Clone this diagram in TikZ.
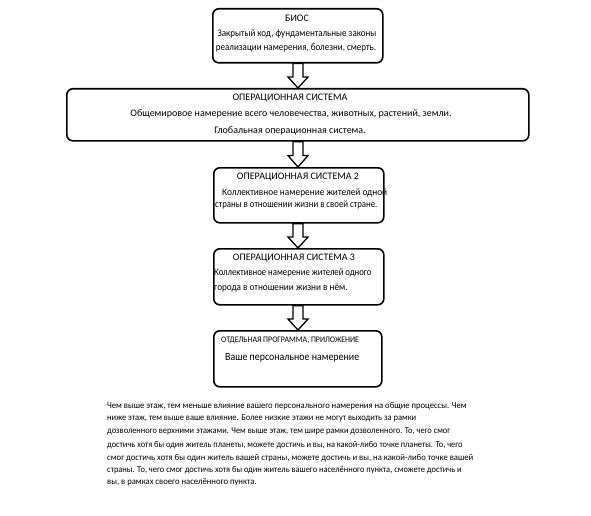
\documentclass[tikz,border=0pt]{standalone}
\usepackage{graphicx}
\usepackage{fontspec}
\setmainfont{Carlito}
\usetikzlibrary{calc}
\newcommand{\sqz}[2]{\scalebox{#1}[1]{#2}}
\begin{document}
\begin{tikzpicture}[x=1pt,y=-1pt,
  box/.style={draw, line width=1.6pt, rounded corners=6pt, anchor=north west, inner sep=0pt},
  txt/.style={inner sep=0pt, font=\fontsize{10}{12}\selectfont},
  ltxt/.style={txt, anchor=west},
  ptxt/.style={inner sep=0pt, anchor=west, font=\fontsize{9}{11}\selectfont},
  barrow/.style={draw, line width=1.3pt, fill=white, line join=miter}]
\useasboundingbox (0,0) rectangle (591,516);
% boxes
\node[box, minimum width=170pt, minimum height=54pt] (bios) at (212,8) {};
\node[box, minimum width=462pt, minimum height=52pt] (os) at (66,88) {};
\node[box, minimum width=170pt, minimum height=55pt] (os2) at (213,167) {};
\node[box, minimum width=170pt, minimum height=56pt] (os3) at (213,248) {};
\node[box, minimum width=168pt, minimum height=56pt] (os4) at (213,330) {};
% texts
\node[txt] (t1a) at (297,18) {БИОС};
\node[txt] (t1b) at (297,34) {\sqz{0.9}{Закрытый код, фундаментальные законы}};
\node[txt] (t1c) at (296,48) {\sqz{0.9}{реализации намерения, болезни, смерть.}};
\node[txt] (t2a) at (290,98) {ОПЕРАЦИОННАЯ СИСТЕМА};
\node[txt] (t2b) at (291,114) {Общемировое намерение всего человечества, животных, растений, земли.};
\node[txt] (t2c) at (290,131) {Глобальная операционная система.};
\node[txt] (t3a) at (298,177) {ОПЕРАЦИОННАЯ СИСТЕМА 2};
\node[ltxt] (t3b) at (222,193) {\sqz{0.93}{Коллективное намерение жителей одной}};
\node[ltxt] (t3c) at (215,205) {\sqz{0.88}{страны в отношении жизни в своей стране.}};
\node[txt] (t4a) at (294,258) {ОПЕРАЦИОННАЯ СИСТЕМА 3};
\node[ltxt] (t4b) at (214,273) {\sqz{0.87}{Коллективное намерение жителей одного}};
\node[ltxt] (t4c) at (214,288) {\sqz{0.92}{города в отношении жизни в нём.}};
\node[ltxt, font=\fontsize{8.5}{10}\selectfont] (t5a) at (221,340) {\sqz{0.93}{ОТДЕЛЬНАЯ ПРОГРАММА, ПРИЛОЖЕНИЕ}};
\node[ltxt, font=\fontsize{11}{13}\selectfont] (t5b) at (225,358) {\sqz{0.9}{Ваше персональное намерение}};
% paragraph
\node[ptxt] (p1) at (107,405.7) {\sqz{0.955}{Чем выше этаж, тем меньше влияние вашего персонального намерения на общие процессы. Чем}};
\node[ptxt] (p2) at (107,418.3) {\sqz{0.94}{ниже этаж, тем выше ваше влияние. Более низкие этажи не могут выходить за рамки}};
\node[ptxt] (p3) at (107,431.3) {\sqz{0.93}{дозволенного верхними этажами. Чем выше этаж, тем шире рамки дозволенного. То, чего смог}};
\node[ptxt] (p4) at (107,445) {\sqz{0.93}{достичь хотя бы один житель планеты, можете достичь и вы, на какой-либо точке планеты. То, чего}};
\node[ptxt] (p5) at (107,458.3) {\sqz{0.96}{смог достичь хотя бы один житель вашей страны, можете достичь и вы, на какой-либо точке вашей}};
\node[ptxt] (p6) at (107,470) {\sqz{0.935}{страны. То, чего смог достичь хотя бы один житель вашего населённого пункта, сможете достичь и}};
\node[ptxt] (p7) at (107,482.7) {\sqz{0.96}{вы, в рамках своего населённого пункта.}};
% arrows
\foreach \a/\b in {bios/os, os/os2, os2/os3, os3/os4} {
  \path let \p1=(\a.south), \p2=(\b.north) in
    \pgfextra{\pgfmathsetmacro{\ym}{\y1+0.55*(\y2-\y1)}}
    [barrow] (298pt-5pt,\y1) -- (298pt+5pt,\y1) -- (298pt+5pt,\ym pt) -- (298pt+10pt,\ym pt)
    -- (298pt,\y2) -- (298pt-10pt,\ym pt) -- (298pt-5pt,\ym pt) -- cycle;
}
\end{tikzpicture}
\end{document}
